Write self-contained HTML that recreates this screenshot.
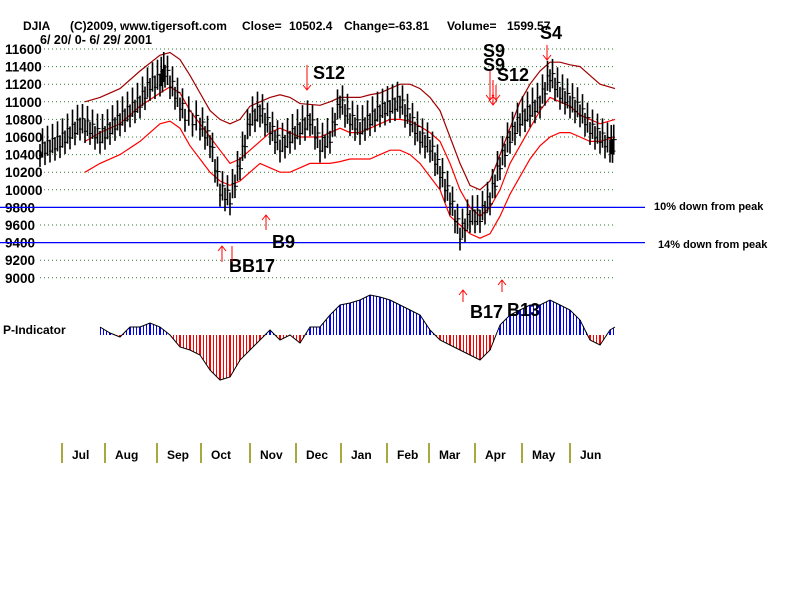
<!DOCTYPE html>
<html><head><meta charset="utf-8"><style>
body{margin:0;background:#fff;}
svg text{font-family:"Liberation Sans",Arial,sans-serif;font-weight:bold;fill:#000;}
</style></head><body>
<svg id="c" width="800" height="600" xmlns="http://www.w3.org/2000/svg">
<g font-size="12">
<text x="23" y="30">DJIA</text>
<text x="70" y="30">(C)2009, www.tigersoft.com</text>
<text x="242" y="30">Close=</text>
<text x="289" y="30">10502.4</text>
<text x="344" y="30">Change=-63.81</text>
<text x="447" y="30">Volume=</text>
<text x="507" y="30">1599.57</text>
</g>
<text x="40" y="44" font-size="12.5">6/ 20/ 0- 6/ 29/ 2001</text>
<g id="grid"></g><g id="bands"></g><g id="bars"></g><g id="pind"></g><g id="ax"></g><g id="sig"></g>
<text x="3" y="334" font-size="12">P-Indicator</text>
<text x="654" y="210" font-size="11">10% down from peak</text>
<text x="658" y="248" font-size="11">14% down from peak</text>
</svg>
<script>
const yTicks=[11600,11400,11200,11000,10800,10600,10400,10200,10000,9800,9600,9400,9200,9000];
const priceX=[40,50,60,70,80,90,100,110,120,130,140,150,160,165,175,185,200,210,220,230,240,250,260,270,280,290,300,310,320,330,340,350,360,370,380,390,400,410,420,430,440,450,460,470,480,490,500,510,520,530,540,550,560,570,580,590,600,610];
const closes=[10450,10500,10550,10650,10750,10700,10600,10700,10800,10900,11000,11200,11250,11350,11100,10850,10750,10550,10000,9900,10300,10800,10900,10700,10500,10600,10700,10800,10500,10600,11000,10800,10700,10800,10900,10950,11000,10800,10600,10500,10200,9900,9500,9700,9700,9900,10300,10600,10800,10900,11000,11300,11100,11000,10900,10700,10600,10500];
const bandX=[85,100,120,140,160,170,180,190,200,210,220,230,240,250,260,270,280,290,300,310,320,330,340,350,360,370,380,390,400,410,420,430,440,450,460,470,480,490,500,510,520,530,540,550,560,570,580,590,600,615];
const upper=[11000,11050,11150,11350,11530,11560,11480,11300,11100,10900,10800,10750,10800,10950,11000,11050,11080,11050,10980,10970,10960,11000,11050,11050,11050,11080,11100,11150,11200,11200,11150,11050,10900,10600,10300,10050,10000,10100,10400,10700,11000,11200,11350,11450,11450,11420,11400,11300,11200,11150];
const middle=[10550,10650,10750,10950,11100,11170,11100,10900,10750,10600,10450,10300,10350,10450,10550,10650,10700,10650,10600,10600,10600,10650,10700,10650,10650,10700,10750,10800,10800,10780,10720,10650,10550,10300,10000,9800,9700,9800,10000,10300,10500,10700,10900,11050,11000,10950,10850,10800,10750,10800];
const lower=[10200,10300,10400,10550,10750,10780,10700,10500,10350,10200,10100,10050,10100,10200,10300,10250,10200,10200,10250,10300,10300,10300,10320,10350,10350,10350,10400,10450,10450,10400,10300,10150,10000,9700,9600,9500,9450,9500,9700,9950,10150,10350,10500,10600,10650,10650,10600,10550,10550,10600];
const pX=[100,110,120,130,140,150,160,170,180,190,200,210,220,230,240,250,260,270,280,290,300,310,320,330,340,350,360,370,380,390,400,410,420,430,440,450,460,470,480,490,500,510,520,530,540,550,560,570,580,590,600,610,615];
const pVals=[8,2,-2,8,8,12,8,0,-12,-15,-20,-35,-45,-42,-25,-15,-5,5,-5,0,-8,8,8,20,30,32,35,40,38,35,30,25,20,5,-5,-10,-15,-20,-25,-15,10,20,25,30,30,35,30,25,15,-5,-10,5,8];
const months=["Jul","Aug","Sep","Oct","Nov","Dec","Jan","Feb","Mar","Apr","May","Jun"];
const monthX=[62,105,157,201,250,296,341,387,429,475,522,570];
const refLevels=[9800,9400];
const NS="http://www.w3.org/2000/svg";
const yS=v=>49+(11600-v)/200*17.6;
const pBase=335;
function mk(t,a,p){const e=document.createElementNS(NS,t);for(const k in a)e.setAttribute(k,a[k]);document.getElementById(p).appendChild(e);return e;}
yTicks.forEach(v=>{
 const l=mk('line',{x1:40,x2:615,y1:yS(v),y2:yS(v),stroke:'#3a7a3a','stroke-dasharray':'1,3'},'grid');
 
 
 const t=mk('text',{x:5,y:yS(v)+5,'font-size':13.5},'grid');t.textContent=v;
 
 
});
refLevels.forEach(v=>{
 const l=mk('line',{x1:0,x2:645,y1:yS(v),y2:yS(v),stroke:'#0000ff','stroke-width':1.3},'grid');
 
 
});
function poly(xs,vs,col,name){const p=mk('polyline',{points:xs.map((x,i)=>x+','+yS(vs[i])).join(' '),fill:'none',stroke:col,'stroke-width':1.2},'bands');
 
 }
poly(bandX,upper,'#a00000','upper-band');poly(bandX,middle,'#ff0000','middle-band');poly(bandX,lower,'#ff0000','lower-band');
for(let i=0;i<priceX.length;i++){
 const nx=i<priceX.length-1?priceX[i+1]:priceX[i]+5;const nc=i<closes.length-1?closes[i+1]:closes[i];
 for(let k=0;k<4;k++){
  const f=k/4;const x=priceX[i]+(nx-priceX[i])*f;const c=closes[i]+(nc-closes[i])*f+(k%2?70:-60);
  const r=130+(k*37%70);
  const b=mk('line',{x1:x,x2:x,y1:yS(c+r),y2:yS(c-r),stroke:'#000','stroke-width':1.6},'bars');
  
  
  mk('line',{x1:x-1,x2:x+3,y1:yS(c),y2:yS(c),stroke:'#000'},'bars');
 }
}
for(let i=0;i<pX.length-1;i++){
 for(let x=pX[i];x<pX[i+1];x+=3){
  const v=pVals[i]+(pVals[i+1]-pVals[i])*(x-pX[i])/(pX[i+1]-pX[i]);
  const l=mk('line',{x1:x+0.5,x2:x+0.5,y1:pBase,y2:pBase-v,stroke:v>=0?'#0000ff':'#ff0000','stroke-width':1},'pind');
  
  
 }
}
const pl=mk('polyline',{points:pX.map((x,i)=>x+','+(pBase-pVals[i])).join(' '),fill:'none',stroke:'#000'},'pind');


months.forEach((m,i)=>{
 const l=mk('line',{x1:monthX[i],x2:monthX[i],y1:443,y2:463,stroke:'#8a8a00','stroke-width':1.5},'ax');
 
 
 const t=mk('text',{x:monthX[i]+10,y:459,'font-size':12},'ax');t.textContent=m;
 
 
});
const sigs=[["S12",313,79,307,65,90,1],["S9",483,57,490,70,100,1],["S9",483,71,493,80,105,1],["S12",497,81,496,85,100,1],["S4",540,39,547,45,60,1],["B9",272,248,266,230,215,0],["BB17",229,272,222,262,246,0],["B17",470,318,463,302,290,0],["B13",507,316,502,292,280,0]];
sigs.forEach(s=>{
 const t=mk('text',{x:s[1],y:s[2],'font-size':18},'sig');t.textContent=s[0];
 
 
 mk('line',{x1:s[3],x2:s[3],y1:s[4],y2:s[5],stroke:'#ff0000'},'sig');
 const d=s[6]?-1:1;
 mk('polyline',{points:(s[3]-4)+','+(s[5]+5*d)+' '+s[3]+','+s[5]+' '+(s[3]+4)+','+(s[5]+5*d),fill:'none',stroke:'#ff0000'},'sig');
});
mk('line',{x1:232,x2:232,y1:262,y2:246,stroke:'#ff0000'},'sig');
</script>
</body></html>
